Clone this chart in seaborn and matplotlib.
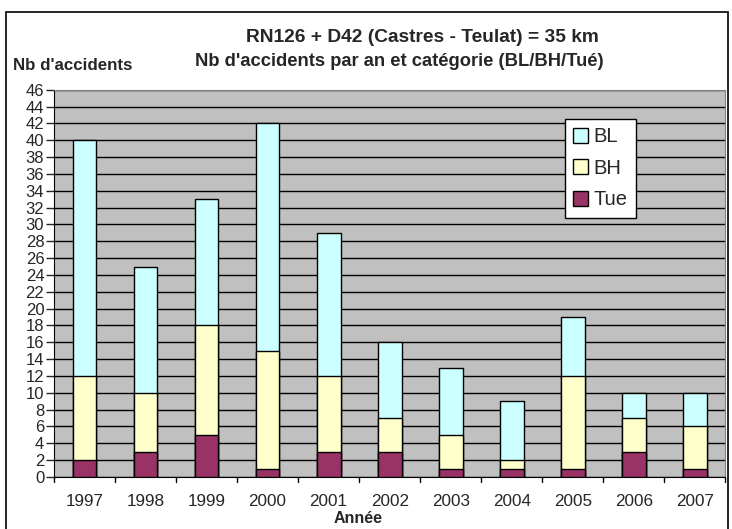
import pandas as pd
import matplotlib.pyplot as plt
import seaborn as sns
from matplotlib.patches import Rectangle, Patch

years = ["1997", "1998", "1999", "2000", "2001", "2002", "2003", "2004", "2005", "2006", "2007"]
tue = [2, 3, 5, 1, 3, 3, 1, 1, 1, 3, 1]
bh = [10, 7, 13, 14, 9, 4, 4, 1, 11, 4, 5]
bl = [28, 15, 15, 27, 17, 9, 8, 7, 7, 3, 4]

df = pd.DataFrame({"annee": years, "Tue": tue, "BH": bh, "BL": bl})
df["bh_top"] = df["Tue"] + df["BH"]
df["bl_top"] = df["bh_top"] + df["BL"]

sns.set_style("white")
plt.rcParams["font.family"] = ["Liberation Sans", "DejaVu Sans"]

fig = plt.figure(figsize=(7.32, 5.29), dpi=100)
ax = fig.add_axes([0.0738, 0.0983, 0.917, 0.732])
ax.set_facecolor("#c0c0c0")

colors = {"BL": "#ccffff", "BH": "#ffffcc", "Tue": "#993366"}
# stacked bars drawn as overlapping cumulative totals
for col, key in [("bl_top", "BL"), ("bh_top", "BH"), ("Tue", "Tue")]:
    sns.barplot(data=df, x="annee", y=col, color=colors[key], width=0.39,
                edgecolor="black", linewidth=1.0, saturation=1, ax=ax, zorder=3)

ax.set_ylim(0, 46)
ax.set_xlim(-0.5, 10.5)
ax.set_yticks(range(0, 47, 2))
ax.yaxis.grid(True, color="black", linewidth=1.0, zorder=0)
ax.set_axisbelow(True)
ax.tick_params(axis="y", left=True, length=6, width=1, labelsize=12, pad=1)
ax.tick_params(axis="x", bottom=False, labelsize=12.3, pad=9)
for t in range(0, 12):
    ax.plot([t - 0.5, t - 0.5], [0, -0.6], color="black", lw=1, clip_on=False)
ax.set_xlabel("")
ax.set_ylabel("")
for s in ["top", "right"]:
    ax.spines[s].set_visible(True)
    ax.spines[s].set_color("#808080")
ax.spines["left"].set_color("black")
ax.spines["bottom"].set_color("black")

leg = ax.legend(handles=[Patch(facecolor=colors[k], edgecolor="black", label=k) for k in ["BL", "BH", "Tue"]],
                loc="upper left", bbox_to_anchor=(0.761, 0.925), borderaxespad=0,
                frameon=True, fancybox=False, framealpha=1,
                edgecolor="black", fontsize=14.5, handlelength=0.75, handleheight=0.75,
                handletextpad=0.25, labelspacing=0.62, borderpad=0.42)
leg.get_frame().set_linewidth(1.0)

fig.text(422 / 732, 0.93, "RN126 + D42 (Castres - Teulat) = 35 km", ha="center", va="center",
         fontsize=13.8, fontweight="bold")
fig.text(399 / 732, 0.883, "Nb d'accidents par an et catégorie (BL/BH/Tué)", ha="center", va="center",
         fontsize=13.2, fontweight="bold")
fig.text(13 / 732, 0.877, "Nb d'accidents", ha="left", va="center", fontsize=12.2, fontweight="bold")
fig.text(358 / 732, 0.019, "Année", ha="center", va="center", fontsize=11.5, fontweight="bold")

fig.patches.append(Rectangle((0.008, -0.01), 0.9865, 0.987, transform=fig.transFigure,
                             fill=False, edgecolor="black", linewidth=1.2))

plt.savefig("out.png", dpi=100)
